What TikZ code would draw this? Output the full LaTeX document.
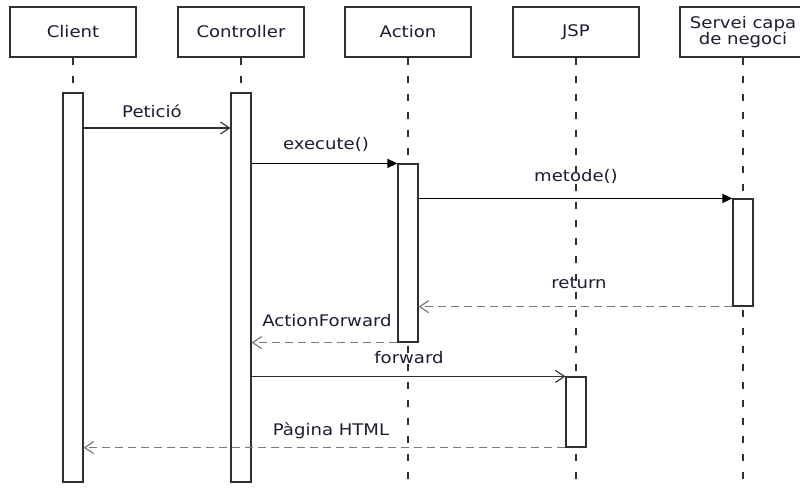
\documentclass[tikz,border=0pt]{standalone}
\usepackage{fontspec}
\newfontfamily\diagfont[FakeStretch=1.13]{DejaVu Sans}
\usetikzlibrary{arrows.meta}
\definecolor{linec}{HTML}{303030}
\definecolor{dashc}{HTML}{7A7A7A}
\definecolor{txtc}{HTML}{1C1C34}
\begin{document}
\begin{tikzpicture}[x=1pt,y=-1pt,
  header/.style={draw=linec, fill=white, line width=1.2pt, minimum width=126pt, minimum height=50pt,
    inner sep=0pt, align=center, text=txtc, font=\diagfont\fontsize{16}{15}\selectfont},
  lifeline/.style={draw=linec, line width=1.2pt, dash pattern=on 7pt off 11pt},
  actbar/.style={draw=linec, fill=white, line width=1.2pt, minimum width=20pt, inner sep=0pt},
  callmsg/.style={draw=black, line width=1.2pt, -{Triangle[length=10pt,width=9pt]}},
  asyncmsg/.style={draw=linec, line width=1.1pt, -{Straight Barb[length=9pt,width=12pt]}},
  retmsg/.style={draw=dashc, line width=1.2pt, dash pattern=on 8pt off 5pt, -{Straight Barb[length=9pt,width=12pt]}},
  lbl/.style={anchor=base, inner sep=0pt, text=txtc, font=\diagfont\fontsize{16}{16}\selectfont}]
\useasboundingbox (0,0) rectangle (800,488);
\coordinate (bottom) at (0,488);

% headers
\node[header] (client) at (73,32) {Client};
\node[header] (ctrl) at (241,32) {Controller};
\node[header] (action) at (408,32) {Action};
\node[header] (jsp) at (576,32) {JSP};
\node[header] (servei) at (743,32) {Servei capa\\de negoci};

% lifelines
\draw[lifeline] (client.south) -- (client.south |- bottom);
\draw[lifeline] (ctrl.south) -- (ctrl.south |- bottom);
\draw[lifeline] (action.south) -- (action.south |- bottom);
\draw[lifeline] (jsp.south) -- (jsp.south |- bottom);
\draw[lifeline] (servei.south) -- (servei.south |- bottom);

% activation bars
\node[actbar, minimum height=389pt] (cb) at (73,287.5) {};
\node[actbar, minimum height=389pt] (ctb) at (241,287.5) {};
\node[actbar, minimum height=178pt] (ab) at (408,253) {};
\node[actbar, minimum height=107pt] (sb) at (743,252.5) {};
\node[actbar, minimum height=70pt] (jb) at (576,412) {};

% messages
\coordinate (y1) at (0,128);
\draw[asyncmsg] (cb.east |- y1) -- (ctb.west |- y1);
\draw[callmsg] (ctb.east |- ab.north west) -- (ab.north west);
\draw[callmsg] (ab.east |- sb.north west) -- (sb.north west);
\draw[retmsg] (sb.south west) -- (ab.east |- sb.south west);
\draw[retmsg] (ab.south west) -- (ctb.east |- ab.south west);
\draw[asyncmsg] (ctb.east |- jb.north west) -- (jb.north west);
\draw[retmsg] (jb.south west) -- (cb.east |- jb.south west);

% labels
\node[lbl] (l1) at (152,117) {Petició};
\node[lbl] (l2) at (326,149) {execute()};
\node[lbl] (l3) at (576,181) {metode()};
\node[lbl] (l4) at (579,288) {return};
\node[lbl] (l5) at (327,326) {ActionForward};
\node[lbl] (l6) at (409,363) {forward};
\node[lbl] (l7) at (331,435) {Pàgina HTML};
\end{tikzpicture}
\end{document}
